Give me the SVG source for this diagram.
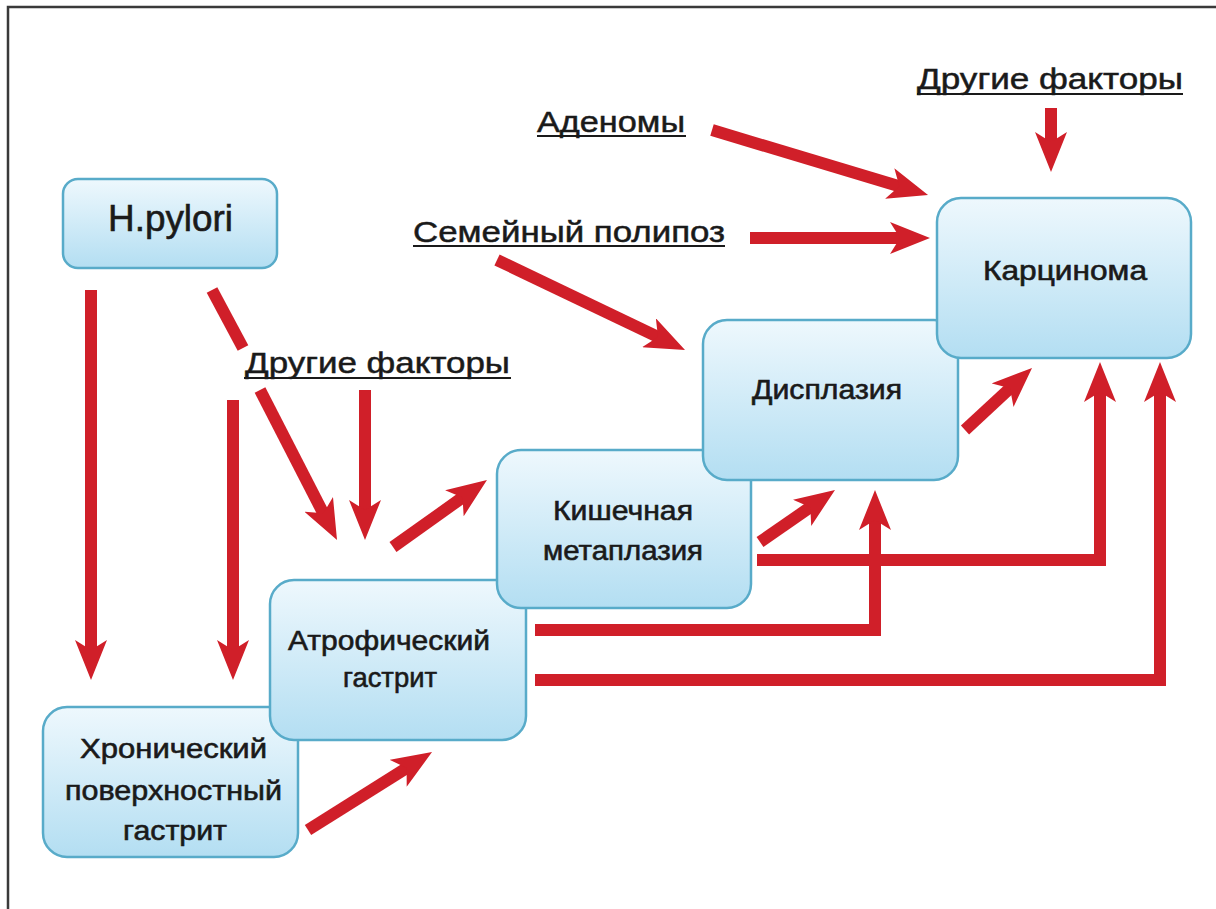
<svg xmlns="http://www.w3.org/2000/svg" width="1216" height="909" viewBox="0 0 1216 909">
<defs>
<linearGradient id="boxg" x1="0" y1="0" x2="0" y2="1">
<stop offset="0" stop-color="#eef8fd"/>
<stop offset="1" stop-color="#b3def2"/>
</linearGradient>
<marker id="ah" viewBox="0 0 40 32" markerWidth="40" markerHeight="32" refX="22" refY="16" orient="auto" markerUnits="userSpaceOnUse">
<path d="M0,0 L40,16 L0,32 L10,16 z" fill="#d01f29"/>
</marker>
<style>
.box{fill:url(#boxg);stroke:#58abc9;stroke-width:2.5}
.nt{font-family:"Liberation Sans","DejaVu Sans",sans-serif;font-size:28px;fill:#1a1a1a;stroke:#1a1a1a;stroke-width:0.6;text-anchor:start}
.lb{font-family:"Liberation Sans","DejaVu Sans",sans-serif;font-size:30px;fill:#1a1a1a;stroke:#1a1a1a;stroke-width:0.5;text-anchor:start}
.ul{stroke:#1a1a1a;stroke-width:2}
.ar{fill:none;stroke:#d01f29;stroke-width:12;stroke-linejoin:miter;stroke-linecap:butt}
</style>
</defs>
<rect width="1216" height="909" fill="#ffffff"/>
<path d="M8,909 V7 H1216" fill="none" stroke="#3a3a3a" stroke-width="2.5"/>

<g id="labels">
<g id="label-other-top">
<text class="lb" x="917" y="89" textLength="266" lengthAdjust="spacingAndGlyphs">Другие факторы</text>
<line class="ul" x1="917" y1="94" x2="1183" y2="94"/>
</g>
<g id="label-adenomy">
<text class="lb" x="537" y="132" textLength="148" lengthAdjust="spacingAndGlyphs">Аденомы</text>
<line class="ul" x1="537" y1="136" x2="686" y2="136"/>
</g>
<g id="label-polyposis">
<text class="lb" x="413" y="242" textLength="312" lengthAdjust="spacingAndGlyphs">Семейный полипоз</text>
<line class="ul" x1="413" y1="246" x2="725" y2="246"/>
</g>
<g id="label-other-mid">
<text class="lb" x="245" y="373" textLength="265" lengthAdjust="spacingAndGlyphs">Другие факторы</text>
<line class="ul" x1="244" y1="378" x2="511" y2="378"/>
</g>
</g>

<g id="connectors">
<line class="ar" x1="91" y1="290" x2="91" y2="662" marker-end="url(#ah)"/>
<line class="ar" x1="212" y1="290" x2="243" y2="348"/>
<line class="ar" x1="260" y1="390" x2="328.8" y2="524" marker-end="url(#ah)"/>
<line class="ar" x1="365" y1="390" x2="365" y2="522" marker-end="url(#ah)"/>
<line class="ar" x1="233" y1="400" x2="233" y2="662" marker-end="url(#ah)"/>
<line class="ar" x1="393" y1="547" x2="472.3" y2="490.5" marker-end="url(#ah)"/>
<line class="ar" x1="308" y1="830" x2="416.8" y2="761.6" marker-end="url(#ah)"/>
<line class="ar" x1="760" y1="542" x2="820.2" y2="500.3" marker-end="url(#ah)"/>
<line class="ar" x1="965" y1="430" x2="1018.8" y2="380.2" marker-end="url(#ah)"/>
<polyline class="ar" points="757,560 1100,560 1100,380" marker-end="url(#ah)"/>
<polyline class="ar" points="535,630 875,630 875,508" marker-end="url(#ah)"/>
<polyline class="ar" points="535,680 1160,680 1160,380" marker-end="url(#ah)"/>
<line class="ar" x1="712" y1="130" x2="910.8" y2="189.8" marker-end="url(#ah)"/>
<line class="ar" x1="750" y1="238" x2="912" y2="238" marker-end="url(#ah)"/>
<line class="ar" x1="497" y1="260" x2="668.8" y2="342.2" marker-end="url(#ah)"/>
<line class="ar" x1="1051" y1="108" x2="1051" y2="154" marker-end="url(#ah)"/>
</g>

<g id="node-hpylori">
<rect class="box" x="63" y="179" width="214" height="89" rx="15"/>
<text class="nt" x="108" y="231" style="font-size:37px" textLength="125" lengthAdjust="spacingAndGlyphs">H.pylori</text>
</g>
<g id="node-chronic">
<rect class="box" x="43" y="707" width="255" height="150" rx="24"/>
<text class="nt" x="80" y="758" textLength="187" lengthAdjust="spacingAndGlyphs">Хронический</text>
<text class="nt" x="65" y="800" textLength="217" lengthAdjust="spacingAndGlyphs">поверхностный</text>
<text class="nt" x="123" y="840" textLength="104" lengthAdjust="spacingAndGlyphs">гастрит</text>
</g>
<g id="node-atrophic">
<rect class="box" x="270" y="580" width="256" height="160" rx="24"/>
<text class="nt" x="288" y="650" textLength="202" lengthAdjust="spacingAndGlyphs">Атрофический</text>
<text class="nt" x="343" y="687" textLength="94" lengthAdjust="spacingAndGlyphs">гастрит</text>
</g>
<g id="node-metaplasia">
<rect class="box" x="497" y="450" width="254" height="158" rx="24"/>
<text class="nt" x="553" y="520" textLength="140" lengthAdjust="spacingAndGlyphs">Кишечная</text>
<text class="nt" x="543" y="560" textLength="160" lengthAdjust="spacingAndGlyphs">метаплазия</text>
</g>
<g id="node-dysplasia">
<rect class="box" x="703" y="320" width="255" height="160" rx="24"/>
<text class="nt" x="752" y="399" textLength="150" lengthAdjust="spacingAndGlyphs">Дисплазия</text>
</g>
<g id="node-carcinoma">
<rect class="box" x="937" y="198" width="254" height="160" rx="24"/>
<text class="nt" x="983" y="280" textLength="164" lengthAdjust="spacingAndGlyphs">Карцинома</text>
</g>
</svg>
